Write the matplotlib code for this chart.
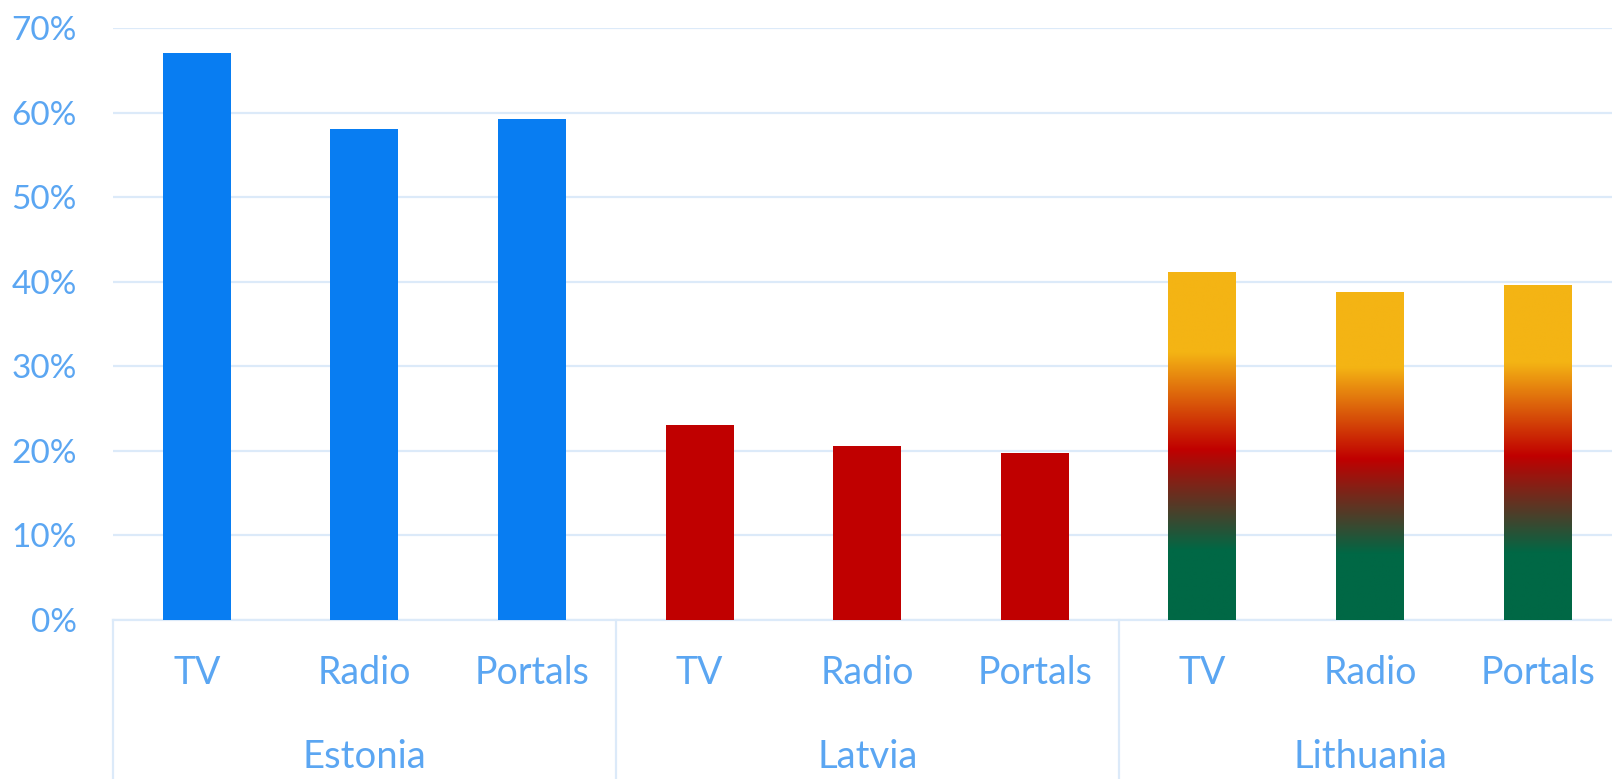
import matplotlib
matplotlib.use("Agg")
import matplotlib.pyplot as plt
import numpy as np
from matplotlib.colors import LinearSegmentedColormap
from matplotlib.transforms import blended_transform_factory

countries = ["Estonia", "Latvia", "Lithuania"]
media = ["TV", "Radio", "Portals"]
estonia = [0.671, 0.580, 0.592]
latvia = [0.231, 0.206, 0.198]
lithuania = [0.411, 0.388, 0.396]
yticks = [0, 0.1, 0.2, 0.3, 0.4, 0.5, 0.6, 0.7]

values = [estonia, latvia, lithuania]
TXT = "#5BA6F2"
GRID = "#DCEAF9"
plt.rcParams["font.family"] = ["Lato", "DejaVu Sans"]

W, H = 1612, 779
fig = plt.figure(figsize=(W / 100, H / 100), dpi=100)
left, bottom, top = 113, 620, 28
slot = 167.6
xmax = (W - left) / slot - 0.5
ax = fig.add_axes([left / W, (H - bottom) / H, 1 - left / W, (bottom - top) / H])

bw = 0.405
cmap = LinearSegmentedColormap.from_list(
    "lt", [(0, "#006845"), (0.2, "#006845"), (0.49, "#C00000"), (0.77, "#F4B414"), (1, "#F4B414")])

for g, vals in enumerate(values):
    for i, v in enumerate(vals):
        x = g * 3 + i
        if g == 0:
            ax.bar(x, v, width=bw, color="#087DF2", zorder=3)
        elif g == 1:
            ax.bar(x, v, width=bw, color="#C00000", zorder=3)
        else:
            b = ax.bar(x, v, width=bw, color="none", zorder=3)[0]
            grad = np.linspace(0, 1, 256).reshape(-1, 1)
            im = ax.imshow(grad, extent=[x - bw / 2, x + bw / 2, 0, v], origin="lower",
                           aspect="auto", cmap=cmap, zorder=3, interpolation="bilinear")
            im.set_clip_path(b)

ax.set_xlim(-0.5, xmax)
ax.set_ylim(0, 0.70)
ax.set_aspect("auto")
ax.set_yticks(yticks)
ax.set_yticklabels([f"{int(round(t*100))}%" for t in yticks], color=TXT, fontsize=24)
ax.tick_params(axis="y", length=0, pad=26)
ax.tick_params(axis="x", length=0, labelbottom=False)
ax.grid(axis="y", color=GRID, lw=1.6, zorder=0)
for s in ["top", "right", "left"]:
    ax.spines[s].set_visible(False)
ax.spines["bottom"].set_color(GRID)
ax.spines["bottom"].set_linewidth(1.6)

tr = blended_transform_factory(ax.transData, ax.transAxes)
hpx = bottom - top
for g, c in enumerate(countries):
    for i, m in enumerate(media):
        ax.text(g * 3 + i, -(673 - bottom) / hpx, m, transform=tr, ha="center", va="center",
                color=TXT, fontsize=27)
    ax.text(g * 3 + 1, -(757 - bottom) / hpx, c, transform=tr, ha="center", va="center",
            color=TXT, fontsize=27.5)
for xd in [-0.5, 2.5, 5.5, 8.5]:
    ax.plot([xd, xd], [0, -0.4], transform=tr, color=GRID, lw=1.6, clip_on=False)

fig.savefig("out.png", dpi=100)
